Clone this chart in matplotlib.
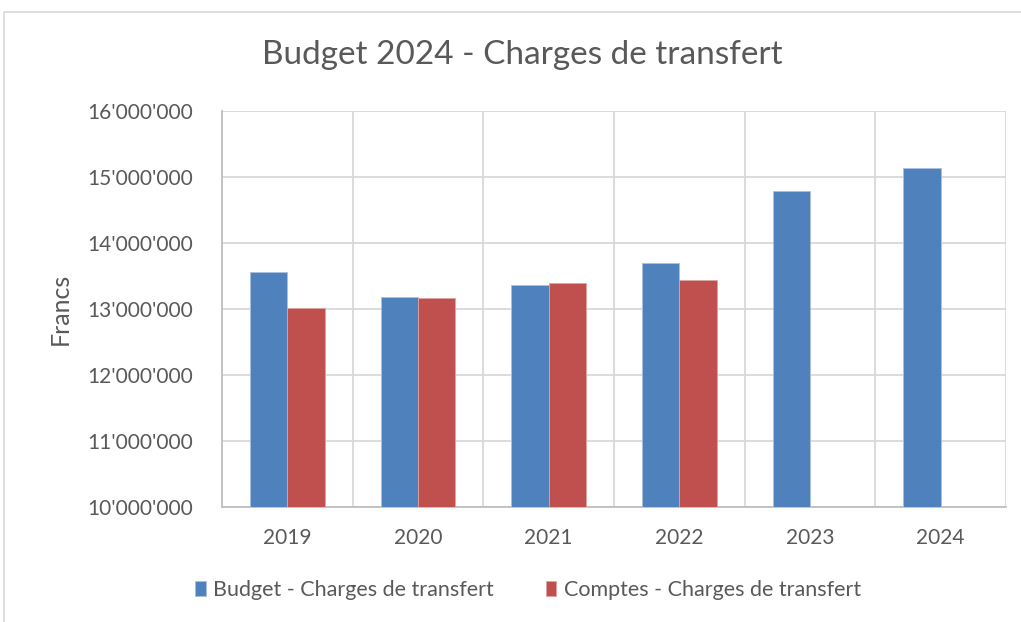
import matplotlib
matplotlib.use("Agg")
import matplotlib.pyplot as plt
from matplotlib.ticker import FuncFormatter
from matplotlib.patches import Rectangle
import numpy as np

years = ["2019", "2020", "2021", "2022", "2023", "2024"]
budget = [13566000, 13180000, 13364000, 13690000, 14790000, 15130000]
comptes = [13010000, 13170000, 13390000, 13440000, np.nan, np.nan]
series_names = ["Budget - Charges de transfert", "Comptes - Charges de transfert"]
title = "Budget 2024 - Charges de transfert"

plt.rcParams['font.family'] = ['Lato', 'DejaVu Sans']
TXT = '#595959'
BLUE = '#4F81BD'
RED = '#C0504D'

fig = plt.figure(figsize=(10.21, 6.22), dpi=100)
fig.patches.append(Rectangle((4/1021, -0.1), 1.2, (622-12)/622 + 0.1, transform=fig.transFigure,
                             fill=False, edgecolor='#d9d9d9', linewidth=1.2))
ax = fig.add_axes([222/1021, (622-507)/622, (1006-222)/1021, (507-111)/622])

x = np.arange(len(years))
w = 0.285
ax.bar(x - w/2, budget, width=w, color=BLUE, edgecolor='#a9c0de', linewidth=0.6, label=series_names[0], zorder=3)
ax.bar(x + w/2, comptes, width=w, color=RED, edgecolor='#e0a3a1', linewidth=0.6, label=series_names[1], zorder=3)

ax.set_ylim(10_000_000, 16_000_000)
ax.set_xlim(-0.5, len(years) - 0.5)
ax.set_yticks(np.arange(10_000_000, 16_000_001, 1_000_000))
ax.yaxis.set_major_formatter(FuncFormatter(lambda v, p: f"{int(v):,}".replace(",", "'")))
ax.set_xticks(x)
ax.set_xticklabels(years)
ax.set_xticks(np.arange(-0.5, len(years), 1), minor=True)
ax.grid(axis='y', which='major', color='#d9d9d9', linewidth=1.3, zorder=0)
ax.grid(axis='x', which='minor', color='#d9d9d9', linewidth=1.3, zorder=0)
ax.tick_params(axis='both', which='both', length=0, labelsize=15, colors=TXT)
ax.tick_params(axis='x', pad=15)
ax.tick_params(axis='y', pad=21)
for s in ['top', 'right']:
    ax.spines[s].set_visible(False)
ax.spines['left'].set_color('#bfbfbf')
ax.spines['left'].set_linewidth(1.3)
ax.spines['bottom'].set_color('#bfbfbf')
ax.spines['bottom'].set_linewidth(1.3)
ax.set_ylabel("Francs", fontsize=18, color=TXT)
ax.yaxis.set_label_coords(-0.192, 0.5)

fig.text(522/1021, 1 - 55/622, title, ha='center', va='center', fontsize=24, color=TXT)

fig.legend(loc='center', bbox_to_anchor=(528/1021, 1 - 590/622), ncol=2, frameon=False,
           fontsize=15.5, handlelength=0.5, handleheight=0.75, handletextpad=0.35, columnspacing=2.4,
           labelcolor=TXT)

fig.savefig("out.png", dpi=100)
